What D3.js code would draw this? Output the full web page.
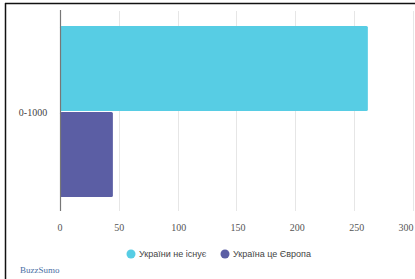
<!DOCTYPE html>
<meta charset="utf-8">
<script src="https://d3js.org/d3.v7.min.js"></script>
<style>
  body { margin: 0; background: #fff; }
</style>
<div id="vis"></div>
<script>

// data
var categories = ["0-1000"];
var seriesNames = ["України не існує", "Україна це Європа"];
var seriesColors = ["#57cde4", "#5b5ea4"];
var values = [[262, 45]]; // per category, per series
var tickValues = [0, 50, 100, 150, 200, 250, 300];

var W = 415, H = 279;
var margin = {top: 11, right: 2, bottom: 68, left: 60};
var width = W - margin.left - margin.right,
    height = H - margin.top - margin.bottom;

var svg = d3.select("#vis").append("svg")
    .attr("width", W)
    .attr("height", H);

// frame lines
svg.append("line").attr("x1", 5).attr("x2", W).attr("y1", 3.5).attr("y2", 3.5)
  .attr("stroke", "#111").attr("stroke-width", 1.5);
svg.append("line").attr("x1", 5.5).attr("x2", 5.5).attr("y1", 3).attr("y2", H)
  .attr("stroke", "#111").attr("stroke-width", 1.5);

var g = svg.append("g")
    .attr("transform", "translate(" + margin.left + "," + margin.top + ")");

var x = d3.scaleLinear().domain([0, 300]).range([0, width - 0.5]);

var y0 = d3.scaleBand().domain(categories).range([15, 186]).padding(0);
var y1 = d3.scaleBand().domain(seriesNames).range([0, y0.bandwidth()]).paddingInner(0.012);

// grid
g.append("g").selectAll("line")
  .data(tickValues.slice(1))
  .enter().append("line")
    .attr("x1", function(d) { return Math.round(x(d)) + 0.5; })
    .attr("x2", function(d) { return Math.round(x(d)) + 0.5; })
    .attr("y1", 0).attr("y2", height)
    .attr("stroke", "#e6e6e6");

// bars
var cat = g.append("g").selectAll("g")
  .data(categories)
  .enter().append("g")
    .attr("transform", function(d) { return "translate(0," + y0(d) + ")"; });

cat.selectAll("rect")
  .data(function(d, i) { return values[i].map(function(v, j) { return {name: seriesNames[j], value: v, color: seriesColors[j]}; }); })
  .enter().append("rect")
    .attr("x", 0)
    .attr("y", function(d) { return y1(d.name); })
    .attr("width", function(d) { return x(d.value); })
    .attr("height", y1.bandwidth())
    .attr("rx", 1.5)
    .attr("fill", function(d) { return d.color; });

// y axis line
g.append("line")
  .attr("x1", 0.5).attr("x2", 0.5).attr("y1", -1).attr("y2", height)
  .attr("stroke", "#777").attr("stroke-width", 1.2);

// category labels
g.append("g").selectAll("text")
  .data(categories)
  .enter().append("text")
    .attr("x", -27)
    .attr("y", function(d) { return y0(d) + y0.bandwidth() / 2 + 4; })
    .attr("text-anchor", "middle")
    .style("font-family", "Liberation Serif, serif")
    .style("font-size", "10px")
    .style("fill", "#444")
    .text(function(d) { return d; });

// x tick labels (last one pulled in so it fits)
g.append("g").selectAll("text")
  .data(tickValues)
  .enter().append("text")
    .attr("x", function(d) { return Math.min(x(d) * 1.01, width - 7); })
    .attr("y", height + 20)
    .attr("text-anchor", "middle")
    .style("font-family", "Liberation Serif, serif")
    .style("font-size", "10px")
    .style("fill", "#555")
    .text(function(d) { return d; });

// legend
var legendX = [131, 225];
var legend = svg.append("g").selectAll("g")
  .data(seriesNames)
  .enter().append("g")
    .attr("transform", function(d, i) { return "translate(" + legendX[i] + ",254)"; });

legend.append("circle")
  .attr("r", 4.5)
  .attr("fill", function(d, i) { return seriesColors[i]; });

legend.append("text")
  .attr("x", 8)
  .attr("y", 3.2)
  .style("font-family", "Liberation Sans, Arial, sans-serif")
  .style("font-size", "9px")
  .style("fill", "#444")
  .text(function(d) { return d; });

// source
svg.append("text")
  .attr("x", 20)
  .attr("y", 273)
  .style("font-family", "Liberation Serif, serif")
  .style("font-size", "9px")
  .style("fill", "#4a6fa5")
  .text("BuzzSumo");

</script>
